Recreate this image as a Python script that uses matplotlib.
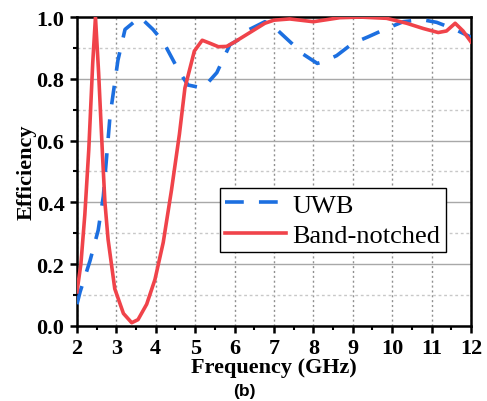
import matplotlib
matplotlib.use("Agg")
import matplotlib.pyplot as plt
from matplotlib.ticker import MultipleLocator

# Data
uwb_freq = [2.0, 2.08, 2.33, 2.54, 2.67, 2.84, 3.04, 3.22, 3.6, 3.93, 4.19, 4.61, 4.82, 5.2,
            5.55, 5.88, 6.14, 6.3, 6.77, 7.07, 7.45, 7.74, 8.1, 8.24, 8.59, 9.0, 9.39, 9.86,
            10.28, 10.75, 11.13, 11.6, 12.0]
uwb_eff = [0.07, 0.11, 0.21, 0.31, 0.42, 0.68, 0.86, 0.96, 1.0, 0.96, 0.92, 0.82, 0.78, 0.77,
           0.82, 0.91, 0.93, 0.955, 0.985, 0.96, 0.915, 0.88, 0.85, 0.855, 0.875, 0.915, 0.936,
           0.963, 0.985, 0.992, 0.983, 0.96, 0.935]

notch_freq = [2.0, 2.1, 2.2, 2.3, 2.4, 2.47, 2.55, 2.65, 2.71, 2.79, 2.96, 3.18, 3.39, 3.55,
              3.77, 3.98, 4.19, 4.4, 4.6, 4.74, 4.98, 5.18, 5.38, 5.59, 5.8, 6.01, 6.39, 6.77,
              7.0, 7.4, 8.0, 8.67, 9.2, 9.86, 10.37, 10.79, 11.17, 11.38, 11.6, 11.8, 12.0]
notch_eff = [0.11, 0.2, 0.36, 0.57, 0.85, 1.0, 0.82, 0.55, 0.4, 0.28, 0.12, 0.04, 0.01, 0.02,
             0.07, 0.15, 0.27, 0.44, 0.62, 0.77, 0.89, 0.925, 0.915, 0.904, 0.905, 0.92, 0.95,
             0.98, 0.99, 0.994, 0.985, 0.998, 1.0, 0.996, 0.98, 0.963, 0.95, 0.955, 0.98, 0.955,
             0.92]

series_labels = ["UWB", "Band-notched"]
xlabel = "Frequency (GHz)"
ylabel = "Efficiency"
caption = "(b)"

serif = ["Liberation Serif", "DejaVu Serif"]

fig = plt.figure(figsize=(4.87, 4.02), dpi=100)
ax = fig.add_axes([0.158, 0.187, 0.809, 0.768])

blue = "#1c6fe0"
red = "#f0434a"

ax.plot(uwb_freq, uwb_eff, color=blue, lw=2.6, linestyle=(0, (5.2, 4.2)),
        label=series_labels[0], zorder=3)
ax.plot(notch_freq, notch_eff, color=red, lw=2.6, label=series_labels[1], zorder=4)

ax.set_xlim(2, 12)
ax.set_ylim(0, 1.0)
ax.xaxis.set_major_locator(MultipleLocator(1))
ax.xaxis.set_minor_locator(MultipleLocator(0.5))
ax.yaxis.set_major_locator(MultipleLocator(0.2))
ax.yaxis.set_minor_locator(MultipleLocator(0.1))

ax.grid(axis="y", which="major", color="#a8a8a8", lw=1.0, linestyle="-", zorder=0)
ax.grid(axis="y", which="minor", color="#c8c8c8", lw=1.0, linestyle=(0, (2, 2)), zorder=0)
ax.grid(axis="x", which="major", color="#909090", lw=1.0, linestyle=(0, (1.5, 2)), zorder=0)
ax.set_axisbelow(True)

for s in ax.spines.values():
    s.set_linewidth(1.8)
    s.set_color("black")

ax.tick_params(which="major", direction="out", length=5, width=1.8, pad=4)
ax.tick_params(which="minor", direction="out", length=3, width=1.5)
ax.tick_params(top=False, right=False, which="both")

ax.set_yticks([0, 0.2, 0.4, 0.6, 0.8, 1.0])
ax.set_yticklabels(["0.0", "0.2", "0.4", "0.6", "0.8", "1.0"])
for lab in ax.get_xticklabels() + ax.get_yticklabels():
    lab.set_fontfamily(serif)
    lab.set_fontweight("bold")
    lab.set_fontsize(16)

ax.set_xlabel(xlabel, family=serif, fontweight="bold", fontsize=16, labelpad=-1)
ax.set_ylabel(ylabel, family=serif, fontweight="bold", fontsize=16, labelpad=0)

leg = ax.legend(loc="lower left", bbox_to_anchor=(0.363, 0.239), borderaxespad=0,
                prop={"family": serif, "size": 19}, handlelength=2.3, handletextpad=0.25,
                labelspacing=0.25, borderpad=0.2, fancybox=False, framealpha=1,
                edgecolor="black")
leg.get_frame().set_linewidth(1.0)

fig.text(0.502, 0.008, caption, family=["Liberation Sans", "DejaVu Sans"],
         fontweight="bold", fontsize=12.5, ha="center", va="bottom")

fig.savefig("out.png", dpi=100)
